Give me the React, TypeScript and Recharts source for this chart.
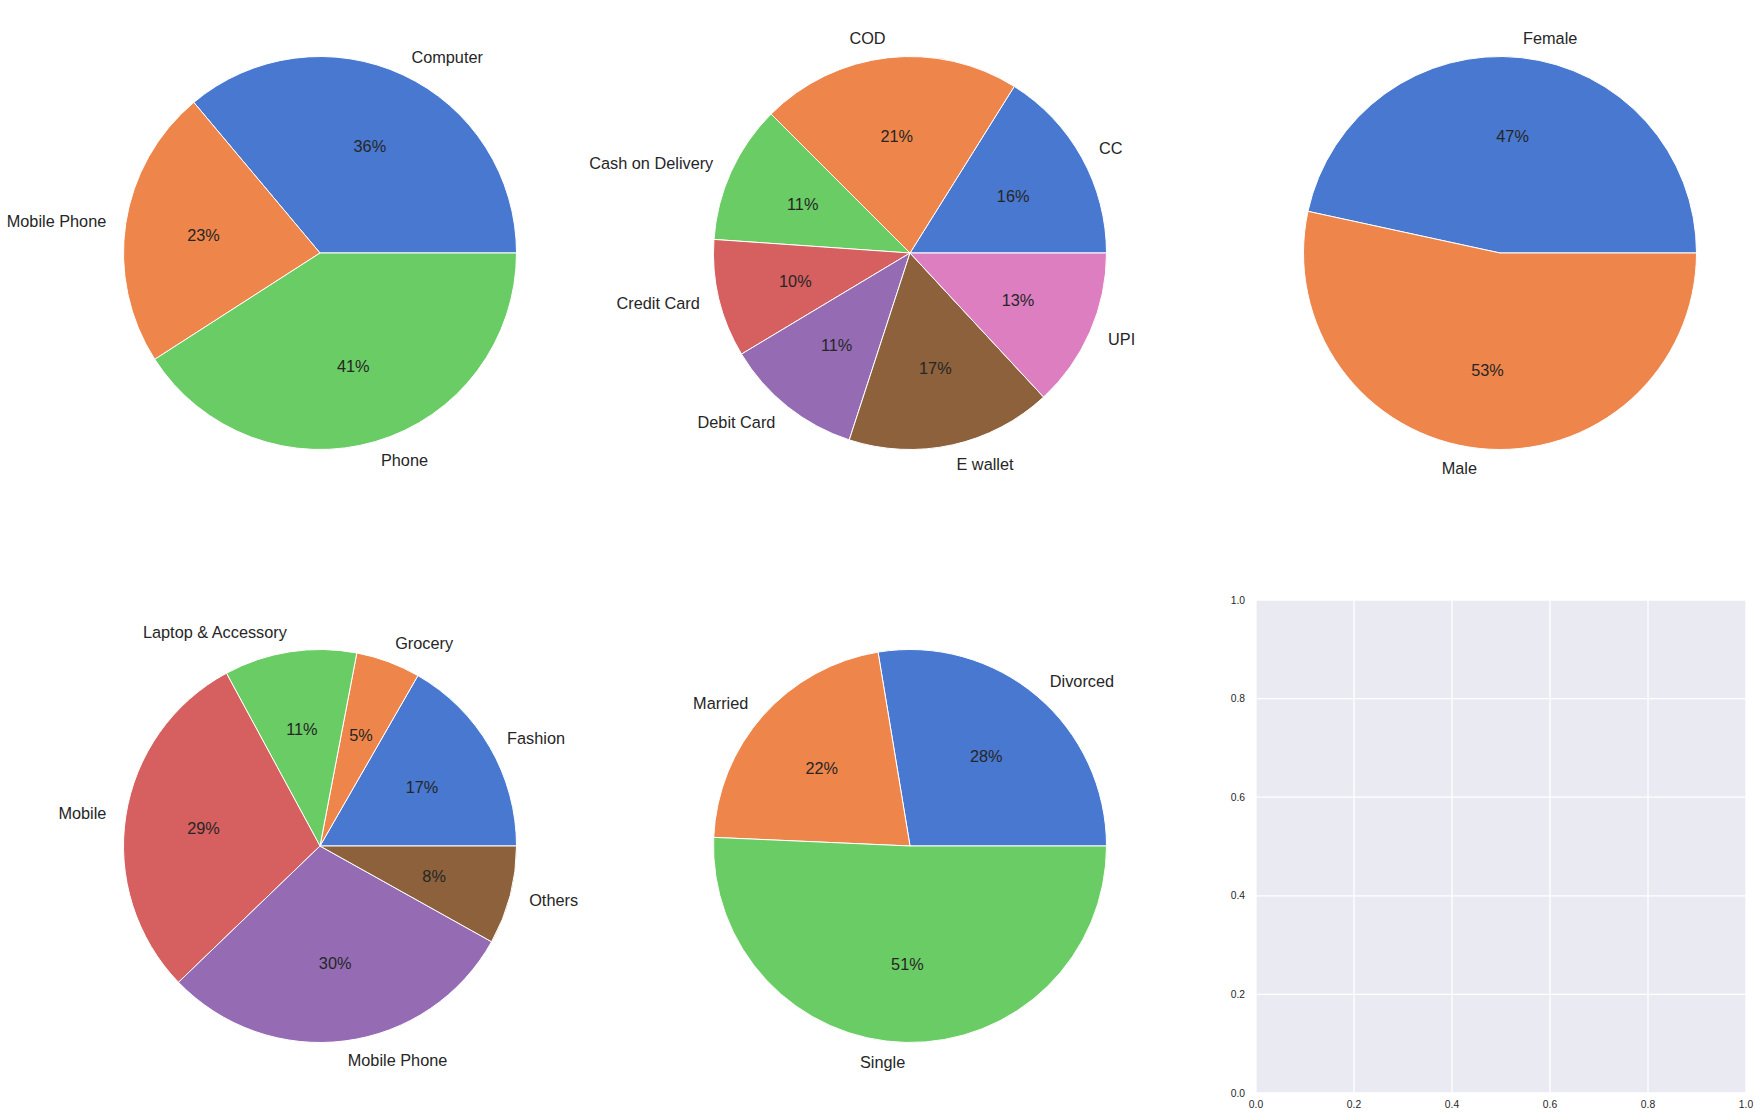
import { PieChart, Pie, Cell, ScatterChart, Scatter, XAxis, YAxis, CartesianGrid } from 'recharts'

// seaborn "muted" palette
const MUTED = ['#4878D0', '#EE854A', '#6ACC64', '#D65F5F', '#956CB4', '#8C613C', '#DC7EC0']

const loginDevices = ['Computer', 'Mobile Phone', 'Phone']
const loginShare = [36.1, 23.0, 40.9]

const paymentModes = ['CC', 'COD', 'Cash on Delivery', 'Credit Card', 'Debit Card', 'E wallet', 'UPI']
const paymentShare = [16.1, 21.4, 11.4, 9.7, 11.4, 16.9, 13.1]

const genders = ['Female', 'Male']
const genderShare = [46.6, 53.4]

const orderCats = ['Fashion', 'Grocery', 'Laptop & Accessory', 'Mobile', 'Mobile Phone', 'Others']
const orderShare = [16.7, 5.3, 10.9, 29.3, 29.7, 8.1]

const maritalStatus = ['Divorced', 'Married', 'Single']
const maritalShare = [27.6, 21.7, 50.7]

const axisTicks = [0, 0.2, 0.4, 0.6, 0.8, 1.0]

const FONT = '"Liberation Sans", Arial, sans-serif'
const TEXT = '#262626'
const RADIAN = Math.PI / 180

const toData = (names: string[], vals: number[]) => names.map((name, i) => ({ name, value: vals[i] }))

const pies = [
  { data: toData(loginDevices, loginShare), cx: 320, cy: 253 },
  { data: toData(paymentModes, paymentShare), cx: 910, cy: 253 },
  { data: toData(genders, genderShare), cx: 1500, cy: 253 },
  { data: toData(orderCats, orderShare), cx: 320, cy: 846 },
  { data: toData(maritalStatus, maritalShare), cx: 910, cy: 846 },
]

// matplotlib style: name at 1.1r, autopct at 0.6r
const renderLabel = (props: any) => {
  const { cx, cy, midAngle, outerRadius, percent, payload, name } = props
  const cos = Math.cos(-midAngle * RADIAN)
  const sin = Math.sin(-midAngle * RADIAN)
  const lx = cx + outerRadius * 1.1 * cos
  const ly = cy + outerRadius * 1.1 * sin
  const px = cx + outerRadius * 0.6 * cos
  const py = cy + outerRadius * 0.6 * sin
  return (
    <g>
      <text x={lx} y={ly} textAnchor={cos >= 0 ? 'start' : 'end'} dominantBaseline="central"
        fontFamily={FONT} fontSize={16.3} fill={TEXT}>
        {payload?.name ?? name}
      </text>
      <text x={px} y={py} textAnchor="middle" dominantBaseline="central"
        fontFamily={FONT} fontSize={16.3} fill={TEXT}>
        {`${Math.round(percent * 100)}%`}
      </text>
    </g>
  )
}

export default function App() {
  return (
    <div style={{ position: 'absolute', left: 0, top: 0, width: 1761, height: 1120, background: '#fff' }}>
      <div style={{ position: 'absolute', left: 0, top: 0 }}>
        <PieChart width={1761} height={1120} margin={{ top: 0, right: 0, bottom: 0, left: 0 }}>
          {pies.map((p, k) => (
            <Pie
              key={k}
              data={p.data}
              dataKey="value"
              nameKey="name"
              cx={p.cx}
              cy={p.cy}
              outerRadius={196.5}
              startAngle={0}
              endAngle={360}
              stroke="#fff"
              strokeWidth={1}
              labelLine={false}
              label={renderLabel}
              isAnimationActive={false}
            >
              {p.data.map((_, i) => (
                <Cell key={i} fill={MUTED[i % MUTED.length]} />
              ))}
            </Pie>
          ))}
        </PieChart>
      </div>

      {/* empty sixth subplot */}
      <div style={{ position: 'absolute', left: 1226, top: 590 }}>
        <ScatterChart width={532} height={528} margin={{ top: 10, right: 12, left: 0, bottom: 0 }}>
          <CartesianGrid fill="#EAEAF2" fillOpacity={1} stroke="#fff" strokeWidth={1.3}
            horizontalValues={axisTicks} verticalValues={axisTicks} />
          <XAxis type="number" dataKey="x" domain={[0, 1]} ticks={axisTicks} height={25}
            allowDataOverflow axisLine={false} tickLine={false} tickMargin={2}
            tickFormatter={(v: number) => v.toFixed(1)}
            tick={{ fontFamily: FONT, fontSize: 10.3, fill: TEXT }} />
          <YAxis type="number" dataKey="y" domain={[0, 1]} ticks={axisTicks} width={30}
            allowDataOverflow axisLine={false} tickLine={false} tickMargin={5}
            tickFormatter={(v: number) => v.toFixed(1)}
            tick={{ fontFamily: FONT, fontSize: 10.3, fill: TEXT }} />
          <Scatter data={[]} isAnimationActive={false} />
        </ScatterChart>
      </div>
    </div>
  )
}
